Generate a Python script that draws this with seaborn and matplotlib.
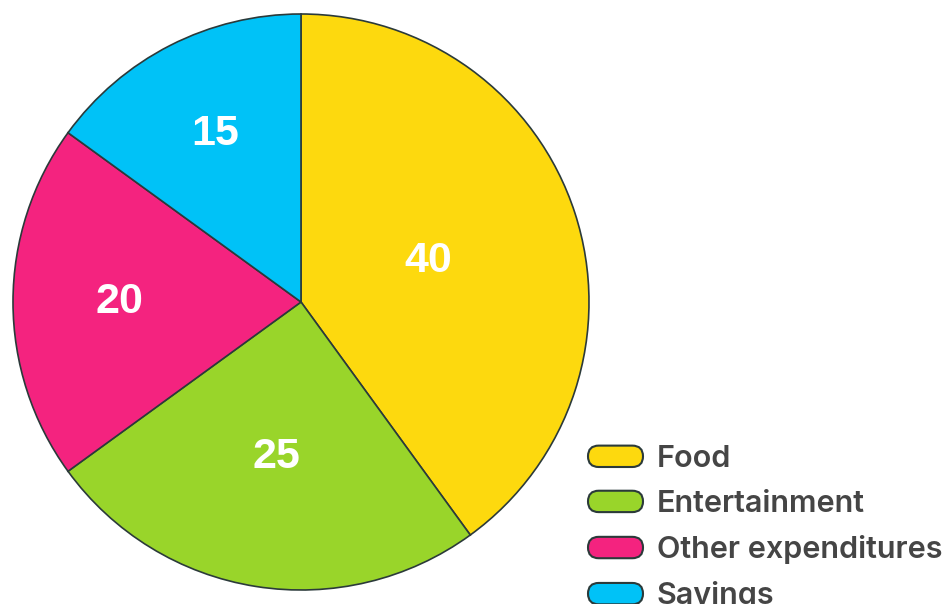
import numpy as np
import matplotlib
matplotlib.use("Agg")
import matplotlib.pyplot as plt
import seaborn as sns
from matplotlib.patches import Patch, FancyBboxPatch
from matplotlib.legend_handler import HandlerPatch

# Monthly budget split (percent)
categories = ["Food", "Entertainment", "Other expenditures", "Savings"]
values = [40, 25, 20, 15]
colors = ["#FDD90E", "#99D52A", "#F4237F", "#00C2F7"]
# radial position of each value label, as a fraction of the radius
label_radius = [0.465, 0.545, 0.632, 0.653]

sns.set_theme(style="white")
plt.rcParams["font.family"] = ["Liberation Sans", "DejaVu Sans"]

W, H, DPI = 9.45, 6.04, 100
fig = plt.figure(figsize=(W, H), dpi=DPI)
ax = fig.add_axes([0, 0, 1, 1])

R = 288.0  # pie radius in pixels
cx, cy = 301.0, 302.0  # pie centre in pixels (from top-left)

edge = "#2B3A3A"
wedges, _ = ax.pie(
    values,
    colors=colors,
    startangle=90,
    counterclock=False,
    radius=1.0,
    center=(0, 0),
    wedgeprops=dict(edgecolor=edge, linewidth=1.2),
    frame=True,
)
ax.set_xlim(-cx / R, (W * DPI - cx) / R)
ax.set_ylim(-(H * DPI - cy) / R, cy / R)
ax.set_aspect("equal")
ax.axis("off")

for w, v, r in zip(wedges, values, label_radius):
    mid = np.deg2rad((w.theta1 + w.theta2) / 2)
    ax.text(r * np.cos(mid), r * np.sin(mid), str(v), ha="center",
            va="center", color="white", fontsize=31, fontweight="bold")


class PillHandler(HandlerPatch):
    def create_artists(self, legend, orig_handle, xdescent, ydescent,
                       width, height, fontsize, trans):
        p = FancyBboxPatch((-xdescent, -ydescent), width, height,
                           boxstyle=f"round,pad=0,rounding_size={height / 2}",
                           facecolor=orig_handle.get_facecolor(),
                           edgecolor=edge, linewidth=1.5, transform=trans)
        return [p]


handles = [Patch(facecolor=c, label=n) for c, n in zip(colors, categories)]
leg = fig.legend(
    handles=handles,
    loc="upper left",
    bbox_to_anchor=(588 / (W * DPI), 1 - 445 / (H * DPI)),
    frameon=False,
    prop=dict(family=["Inter", "DejaVu Sans"], weight=600, size=22),
    handlelength=1.8,
    handleheight=0.7,
    handletextpad=0.45,
    labelspacing=0.56,
    borderpad=0,
    borderaxespad=0,
    handler_map={Patch: PillHandler()},
)
for t in leg.get_texts():
    t.set_color("#454545")

fig.savefig("out.png", dpi=DPI)
